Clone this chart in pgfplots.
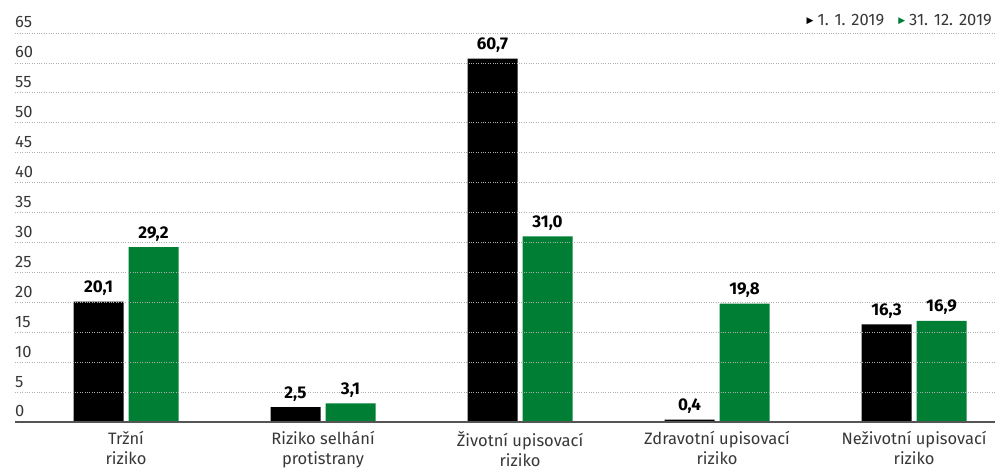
\documentclass[border=0pt]{standalone}
\usepackage{fontspec}
\setmainfont{Fira Sans}
\newfontfamily\symfont{DejaVu Sans}
\usepackage{pgfplots}
\pgfplotsset{compat=1.18}
\definecolor{grn}{RGB}{0,127,52}
\definecolor{gridc}{RGB}{175,175,175}
\definecolor{axc}{RGB}{85,85,85}
\definecolor{txt}{RGB}{55,55,55}
\begin{document}
\begin{tikzpicture}[x=1pt,y=1pt]
\begin{axis}[
 at={(0,0)}, anchor=south west,
 scale only axis, width=980pt, height=389pt,
 xmin=-0.5635, xmax=4.411, ymin=0, ymax=65,
 ybar=5pt, bar width=50pt,
 axis on top, clip=false,
 /pgf/number format/assume math mode=true,
 xtick={0,1,2,3,4},
 xticklabels={{Tržní\\riziko},{Riziko selhání\\protistrany},{Životní upisovací\\riziko},{Zdravotní upisovací\\riziko},{Neživotní upisovací\\riziko}},
 xticklabel style={align=center, font=\fontsize{16.5}{20}\selectfont, text=txt, inner sep=0pt, anchor=north, yshift=-9pt},
 ytick={0,5,...,65},
 yticklabel style={anchor=base west, inner sep=0pt, yshift=5pt, font=\fontsize{16.5}{17}\selectfont, text=txt},
 major tick length=0pt,
 ymajorgrids,
 grid style={gridc, dotted, line width=0.8pt},
 separate axis lines,
 axis x line*=bottom,
 axis y line*=left,
 x axis line style={axc, line width=1.3pt, -},
 y axis line style={draw=none},
 nodes near coords,
 nodes near coords style={font=\fontsize{17}{17}\selectfont\bfseries, text=black, anchor=base, inner sep=0pt, yshift=9pt,
   /pgf/number format/.cd, fixed, fixed zerofill, precision=1, use comma},
]
\addplot[fill=black, draw=none] coordinates {(0,20.1) (1,2.5) (2,60.7) (3,0.4) (4,16.3)};
\addplot[fill=grn, draw=none] coordinates {(0,29.2) (1,3.1) (2,31.0) (3,19.8) (4,16.9)};
\node[anchor=base east, inner sep=0pt, font=\fontsize{16.5}{17}\selectfont, text=txt] at (rel axis cs:1,1) [xshift=-3pt, yshift=7pt]
  {\raisebox{2pt}{\symfont\fontsize{9}{10}\selectfont\color{black}▶}\hspace{4pt}1. 1. 2019\hspace{14pt}\raisebox{2pt}{\symfont\fontsize{9}{10}\selectfont\color{grn}▶}\hspace{4pt}31. 12. 2019};
\end{axis}
\pgfresetboundingbox
\path (-15,-48) rectangle (980,422);
\end{tikzpicture}
\end{document}
